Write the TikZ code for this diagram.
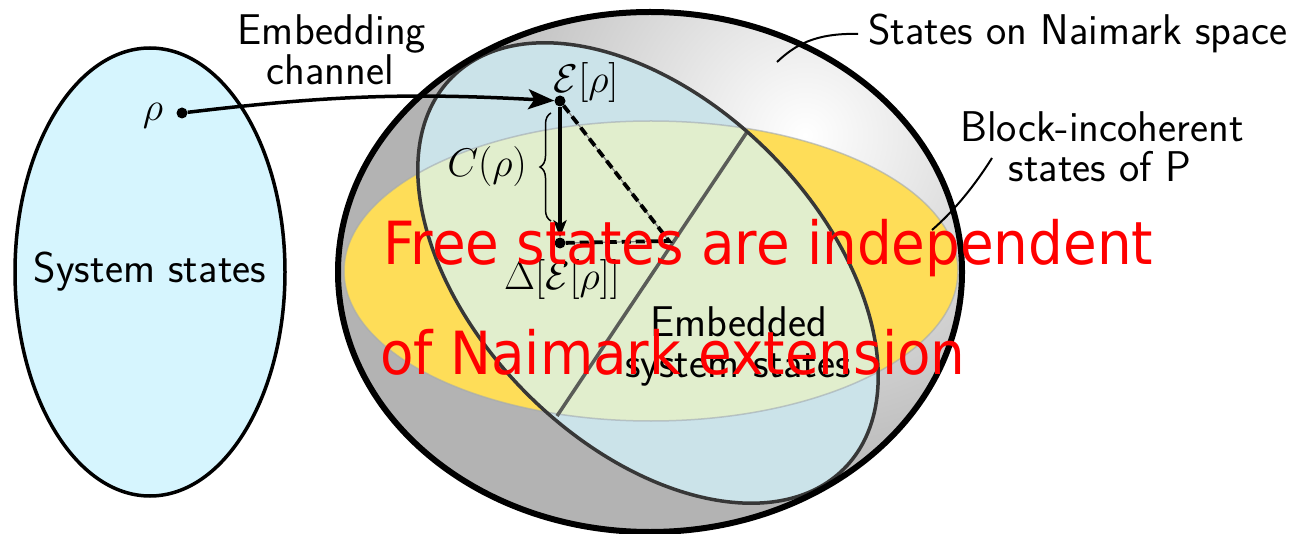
\RequirePackage{fix-cm}
\documentclass[tikz,border=0pt]{standalone}
\usepackage{fontspec}
\newfontfamily\redfont[FakeStretch=0.92]{DejaVu Sans}
\usetikzlibrary{arrows.meta,decorations.pathreplacing}
\definecolor{sysblue}{RGB}{214,245,254}
\definecolor{sphgray}{RGB}{179,179,179}
\definecolor{incyel}{RGB}{254,221,88}
\definecolor{embblue}{RGB}{203,227,233}
\definecolor{embgreen}{RGB}{225,238,205}
\definecolor{rimline}{RGB}{160,168,178}
\definecolor{tiltline}{RGB}{55,55,55}
\definecolor{chordline}{RGB}{90,92,88}
\begin{document}
\begin{tikzpicture}[x=1pt,y=-1pt,
  lbl/.style={font=\fontsize{43}{43}\selectfont\sffamily, inner sep=0pt, anchor=base},
  mlbl/.style={font=\fontsize{40}{40}\selectfont, inner sep=0pt, anchor=base},
  redlbl/.style={font=\fontsize{59.5}{59.5}\selectfont\redfont, text=red, inner sep=0pt, anchor=base west},
  dotnode/.style={circle, fill=black, inner sep=0pt, minimum size=11pt},
  leader/.style={line width=2pt},
  mainarrow/.style={line width=3.5pt, -{Stealth[length=26pt,width=20pt,inset=6pt]}},
  downarrow/.style={line width=3.2pt, -{Stealth[length=17pt,width=13pt,inset=4pt]}},
  sphere/.style={x radius=312pt, y radius=260pt},
  yell/.style={x radius=307pt, y radius=150pt},
  tilt/.style={x radius=277pt, y radius=171pt},
 ]
\useasboundingbox (0,0) rectangle (1292,534);

% system states
\draw[line width=3.5pt, fill=sysblue] (150,272) ellipse [x radius=135pt, y radius=224pt];
\node[lbl] (sys) at (150,283) {System states};

% sphere
\coordinate (cS) at (650,272);
\coordinate (cY) at (651,271);
\coordinate (cT) at (648,273);
\fill[sphgray] (cS) ellipse [sphere];
\begin{scope}
  \clip (cS) ellipse [sphere];
  \shade[inner color=white, outer color=sphgray] (805,135) circle [radius=380pt];
\end{scope}
\fill[incyel] (cY) ellipse [yell];
\fill[embblue, rotate around={-45:(cT)}] (cT) ellipse [tilt];
\begin{scope}
  \clip[rotate around={-45:(cT)}] (cT) ellipse [tilt];
  \fill[embgreen] (cY) ellipse [yell];
\end{scope}
\draw[rimline, line width=1.5pt, opacity=.6] (cY) ellipse [yell];
\coordinate (ch1) at (747,132);
\coordinate (ch2) at (557,416);
\draw[chordline, line width=3.5pt] (ch1) -- (ch2);
\draw[tiltline, line width=3.5pt, rotate around={-45:(cT)}] (cT) ellipse [tilt];
\draw[line width=6pt] (cS) ellipse [sphere];

\node[lbl] (emb3) at (739,337) {Embedded};
\node[lbl] (emb4) at (738,377) {system states};

% points and arrows
\node[dotnode] (rhod) at (182,113) {};
\node[mlbl] (rhol) at (153,121) {$\rho$};
\node[dotnode] (Ed) at (560,101) {};
\node[mlbl] (El) at (586,93) {$\mathcal{E}[\rho]$};
\node[dotnode] (Dd) at (560,243) {};
\node[mlbl] (Dl) at (562,290) {$\Delta[\mathcal{E}[\rho]]$};
\coordinate (Fc) at (669,241);
\draw[line width=1.2pt, gray] (Ed) -- (Fc) -- (Dd);
\draw[line width=3.8pt, dash pattern=on 9pt off 5pt] (Ed) -- (Fc) -- (Dd);
\draw[mainarrow] (rhod) to[bend left=5] (Ed);
\draw[downarrow] (Ed) -- (Dd);
\coordinate (br1) at (551,221);
\coordinate (br2) at (551,113);
\draw[line width=1.5pt, decorate, decoration={brace, amplitude=11pt}] (br1) -- (br2);
\node[mlbl] (Cl) at (487,177) {$C(\rho)$};

\node[lbl] (emb1) at (332,45) {Embedding};
\node[lbl] (emb2) at (330,85) {channel};

% callouts
\node[lbl, anchor=base west, inner sep=10pt] (nai) at (858,45) {States on Naimark space};
\coordinate (naiend) at (777,62);
\draw[leader] (nai.west) .. controls (815,33) and (795,45) .. (naiend);
\node[lbl] (blk1) at (1102,142) {Block-incoherent};
\node[lbl] (blk2) at (1100,182) {states of P};
\coordinate (blkA) at (992,158);
\coordinate (blkB) at (932,230);
\draw[leader] (blkA) .. controls (975,185) and (955,210) .. (blkB);

% red overlay text
\node[redlbl] (red1) at (383,265) {Free states are independent};
\node[redlbl] (red2) at (380,374) {of Naimark extension};
\end{tikzpicture}
\end{document}
